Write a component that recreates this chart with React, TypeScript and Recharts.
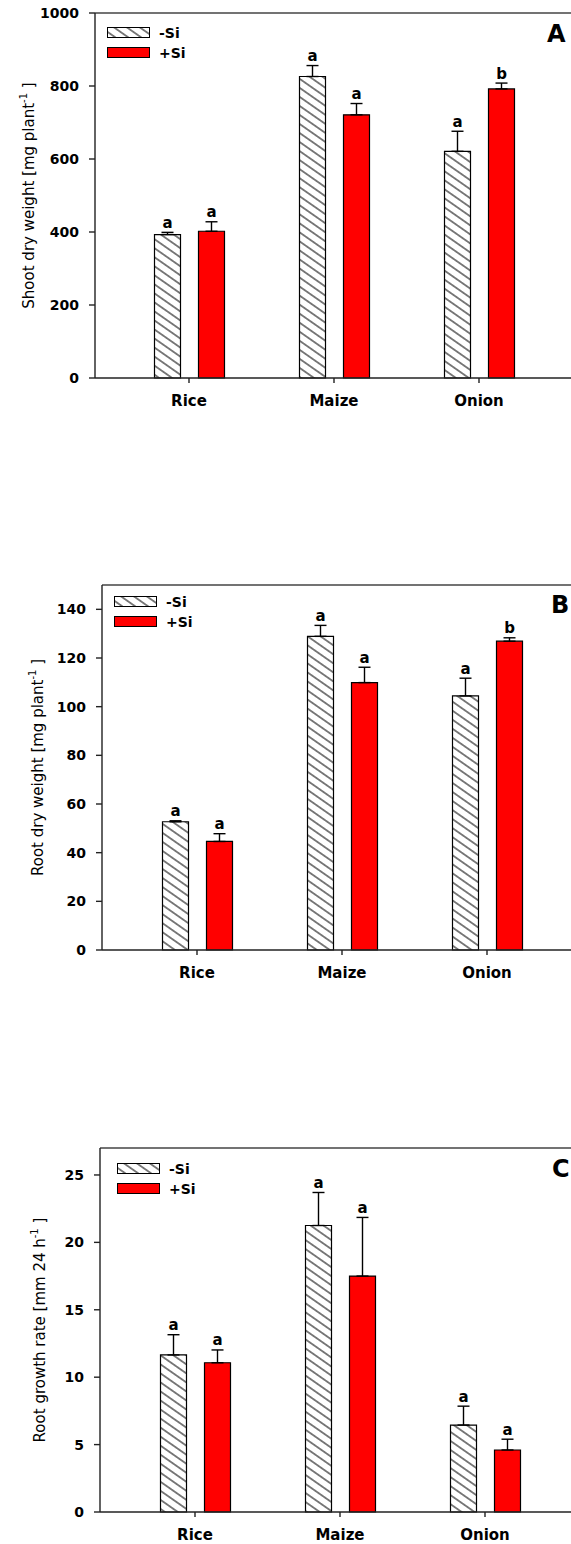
import { Bar, BarChart, ErrorBar, Legend, ReferenceLine, XAxis, YAxis } from "recharts";

const FONT = "'DejaVu Sans', Arial, sans-serif";
const RED = "#ff0000";

const crops = ["Rice", "Maize", "Onion"];

// A - shoot dry weight [mg plant-1]
const shootMinus = [393, 826, 621];
const shootMinusErr = [6, 30, 55];
const shootPlus = [402, 721, 792];
const shootPlusErr = [26, 31, 16];
const shootMinusLetters = ["a", "a", "a"];
const shootPlusLetters = ["a", "a", "b"];
const shootTicks = [0, 200, 400, 600, 800, 1000];

// B - root dry weight [mg plant-1]
const rootMinus = [52.7, 128.9, 104.4];
const rootMinusErr = [0.4, 4.5, 7.3];
const rootPlus = [44.6, 109.9, 126.9];
const rootPlusErr = [3.2, 6.3, 1.4];
const rootMinusLetters = ["a", "a", "a"];
const rootPlusLetters = ["a", "a", "b"];
const rootTicks = [0, 20, 40, 60, 80, 100, 120, 140];

// C - root growth rate [mm 24 h-1]
const rateMinus = [11.65, 21.25, 6.45];
const rateMinusErr = [1.5, 2.45, 1.4];
const ratePlus = [11.07, 17.5, 4.6];
const ratePlusErr = [0.95, 4.35, 0.8];
const rateMinusLetters = ["a", "a", "a"];
const ratePlusLetters = ["a", "a", "a"];
const rateTicks = [0, 5, 10, 15, 20, 25];

const CHART_W = 640;
const BAND = 145;

function hatchDef(id: string) {
  return (
    <pattern id={id} patternUnits="userSpaceOnUse" width={10} height={7.4} patternTransform="rotate(35)">
      <rect width={10} height={7.4} fill="#fff" />
      <line x1={0} y1={3.7} x2={10} y2={3.7} stroke="#000" strokeWidth={1} />
    </pattern>
  );
}

// letter sits above the error bar cap, placed with the bar's own pixel scale
const letterLabel = (letters: string[], values: number[], errs: number[]) => (props: any) => {
  const vb = props.viewBox || {};
  const x = props.x ?? vb.x;
  const y = props.y ?? vb.y;
  const width = props.width ?? vb.width;
  const height = props.height ?? vb.height;
  const v = Number(props.value);
  let idx = props.index;
  if (idx === undefined) idx = values.indexOf(v);
  const pxPerUnit = height / v;
  const top = y - errs[idx] * pxPerUnit;
  return (
    <text
      key={`lt-${idx}`}
      x={x + width / 2}
      y={top - 4.5}
      textAnchor="middle"
      fontSize={15}
      fontWeight="bold"
      fontFamily={FONT}
      fill="#000"
    >
      {letters[idx]}
    </text>
  );
};

function LegendBox({ id }: { id: string }) {
  return (
    <svg width={90} height={32} style={{ display: "block", overflow: "visible" }}>
      <defs>{hatchDef(id)}</defs>
      <rect x={0.5} y={0.5} width={42} height={10} fill={`url(#${id})`} stroke="#000" strokeWidth={1} />
      <text x={52} y={6} dominantBaseline="central" fontSize={14} fontWeight="bold" fontFamily={FONT}>
        -Si
      </text>
      <rect x={0.5} y={20.5} width={42} height={10} fill={RED} stroke="#000" strokeWidth={1} />
      <text x={52} y={26} dominantBaseline="central" fontSize={14} fontWeight="bold" fontFamily={FONT}>
        +Si
      </text>
    </svg>
  );
}

interface PanelProps {
  id: string;
  top: number;
  height: number;
  marginTop: number;
  axisWidth: number;
  padLeft: number;
  domain: [number, number];
  ticks: number[];
  minus: number[];
  minusErr: number[];
  plus: number[];
  plusErr: number[];
  minusLetters: string[];
  plusLetters: string[];
  titleMain: string;
  titleX: number;
  letter: string;
  letterX: number;
  letterY: number;
  legendLeft: number;
  legendTop: number;
}

function Panel(p: PanelProps) {
  const rows = crops.map((crop, i) => ({
    crop,
    minus: p.minus[i],
    minusErr: [0, p.minusErr[i]],
    plus: p.plus[i],
    plusErr: [0, p.plusErr[i]],
  }));
  const marginBottom = 12;
  const xAxisH = 40;
  const plotBottom = p.height - marginBottom - xAxisH;
  const titleY = (p.marginTop + plotBottom) / 2;
  const padRight = CHART_W - 20 - p.axisWidth - p.padLeft - BAND * crops.length;
  const hatchId = `hatch${p.id}`;

  return (
    <div style={{ position: "absolute", left: 0, top: p.top }}>
      <BarChart
        width={CHART_W}
        height={p.height}
        data={rows}
        margin={{ top: p.marginTop, right: 20, bottom: marginBottom, left: 0 }}
        barGap={18}
      >
        <defs>{hatchDef(hatchId)}</defs>
        <XAxis
          dataKey="crop"
          height={xAxisH}
          padding={{ left: p.padLeft, right: padRight }}
          tickSize={5}
          tickMargin={12}
          axisLine={{ stroke: "#222", strokeWidth: 1.4 }}
          tickLine={{ stroke: "#222", strokeWidth: 1.4 }}
          tick={{ fontSize: 15, fontWeight: "bold", fill: "#000", fontFamily: FONT }}
        />
        <YAxis
          width={p.axisWidth}
          domain={p.domain}
          ticks={p.ticks}
          interval={0}
          tickSize={6}
          tickMargin={10}
          axisLine={{ stroke: "#222", strokeWidth: 1.4 }}
          tickLine={{ stroke: "#222", strokeWidth: 1.4 }}
          tick={{ fontSize: 14, fontWeight: "bold", fill: "#000", fontFamily: FONT }}
        />
        <ReferenceLine y={p.domain[1]} stroke="#444" strokeWidth={1.4} />
        <Bar
          dataKey="minus"
          name="-Si"
          barSize={26}
          fill={`url(#${hatchId})`}
          stroke="#000"
          strokeWidth={1.2}
          isAnimationActive={false}
          label={letterLabel(p.minusLetters, p.minus, p.minusErr)}
        >
          <ErrorBar dataKey="minusErr" width={6} stroke="#000" strokeWidth={1.4} direction="y" isAnimationActive={false} />
        </Bar>
        <Bar
          dataKey="plus"
          name="+Si"
          barSize={26}
          fill={RED}
          stroke="#000"
          strokeWidth={1.2}
          isAnimationActive={false}
          label={letterLabel(p.plusLetters, p.plus, p.plusErr)}
        >
          <ErrorBar dataKey="plusErr" width={6} stroke="#000" strokeWidth={1.4} direction="y" isAnimationActive={false} />
        </Bar>
        <Legend
          layout="vertical"
          align="center"
          verticalAlign="middle"
          wrapperStyle={{ left: p.legendLeft, top: p.legendTop, width: 90, height: 32 }}
          content={() => <LegendBox id={`leg${p.id}`} />}
        />
        <text
          x={p.titleX}
          y={titleY}
          transform={`rotate(-90 ${p.titleX} ${titleY})`}
          textAnchor="middle"
          dominantBaseline="central"
          fontSize={15}
          fontFamily={FONT}
          fill="#000"
        >
          {p.titleMain}
          <tspan dy={-6} fontSize={10}>
            -1
          </tspan>
          <tspan dy={6}> ]</tspan>
        </text>
        <text x={p.letterX} y={p.letterY} fontSize={24} fontWeight="bold" fontFamily={FONT} fill="#000">
          {p.letter}
        </text>
      </BarChart>
    </div>
  );
}

export default function App() {
  return (
    <div
      style={{
        position: "absolute",
        left: 0,
        top: 0,
        width: 571,
        height: 1544,
        overflow: "hidden",
        background: "#fff",
        fontFamily: FONT,
      }}
    >
      <Panel
        id="A"
        top={0}
        height={430}
        marginTop={13}
        axisWidth={95}
        padLeft={21.5}
        domain={[0, 1000]}
        ticks={shootTicks}
        minus={shootMinus}
        minusErr={shootMinusErr}
        plus={shootPlus}
        plusErr={shootPlusErr}
        minusLetters={shootMinusLetters}
        plusLetters={shootPlusLetters}
        titleMain="Shoot dry weight [mg plant"
        titleX={29}
        letter="A"
        letterX={547}
        letterY={42}
        legendLeft={107}
        legendTop={27}
      />
      <Panel
        id="B"
        top={570}
        height={432}
        marginTop={15}
        axisWidth={102}
        padLeft={22.5}
        domain={[0, 150]}
        ticks={rootTicks}
        minus={rootMinus}
        minusErr={rootMinusErr}
        plus={rootPlus}
        plusErr={rootPlusErr}
        minusLetters={rootMinusLetters}
        plusLetters={rootPlusLetters}
        titleMain="Root dry weight [mg plant"
        titleX={38}
        letter="B"
        letterX={551}
        letterY={43}
        legendLeft={114}
        legendTop={26}
      />
      <Panel
        id="C"
        top={1130}
        height={434}
        marginTop={18}
        axisWidth={100}
        padLeft={22.5}
        domain={[0, 27]}
        ticks={rateTicks}
        minus={rateMinus}
        minusErr={rateMinusErr}
        plus={ratePlus}
        plusErr={ratePlusErr}
        minusLetters={rateMinusLetters}
        plusLetters={ratePlusLetters}
        titleMain="Root growth rate [mm 24 h"
        titleX={40}
        letter="C"
        letterX={552}
        letterY={47}
        legendLeft={117}
        legendTop={33}
      />
    </div>
  );
}
